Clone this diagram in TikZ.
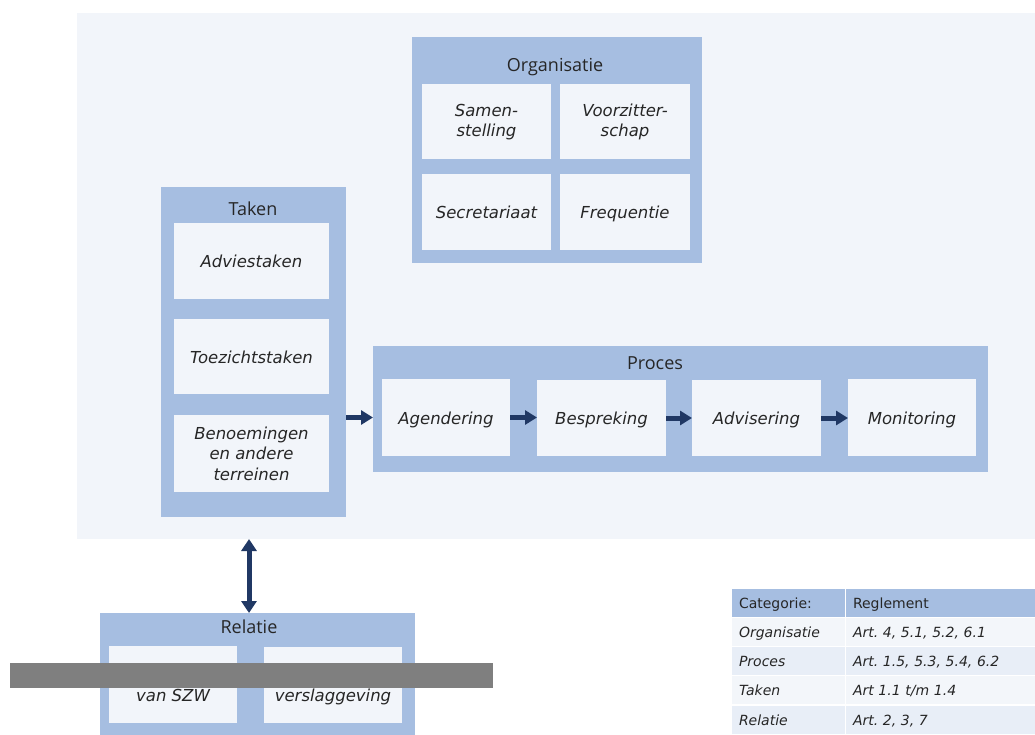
\documentclass[tikz,border=0pt]{standalone}
\usepackage{fontspec}
\setmainfont{DejaVu Sans}
\newfontfamily\titlefamily{Open Sans}
\usetikzlibrary{arrows.meta}
\definecolor{boxblue}{HTML}{A6BEE1}
\definecolor{panelfill}{HTML}{F2F5FA}
\definecolor{cellfill}{HTML}{F2F5FA}
\definecolor{navy}{HTML}{203864}
\definecolor{txt}{HTML}{262626}
\definecolor{rowlight}{HTML}{F3F6FA}
\definecolor{rowalt}{HTML}{E8EEF7}
\definecolor{bargray}{HTML}{7F7F7F}
\tikzset{
  group/.style={fill=boxblue, draw=none, inner sep=0pt, outer sep=0pt},
  cell/.style={fill=cellfill, draw=none, inner sep=0pt, outer sep=0pt, align=center, text=txt,
    font={\itshape\fontsize{16.5}{20.5}\selectfont}},
  oneline/.style={text height=13pt, text depth=0pt},
  grouptitle/.style={inner sep=0pt, text=txt, text height=13pt, text depth=0pt,
    font={\titlefamily\fontsize{18}{22}\selectfont}},
  flow/.style={draw=navy, line width=5pt, -{Triangle[width=14pt,length=12pt]}},
  dbl/.style={draw=navy, line width=5pt, {Triangle[width=15pt,length=12pt]}-{Triangle[width=15pt,length=12pt]}},
  tcell/.style={draw=white, line width=1pt, inner xsep=8pt, inner ysep=0pt, outer sep=0pt,
    minimum height=29pt, align=left, text=txt, text height=11pt, text depth=0pt,
    font={\fontsize{14}{17}\selectfont}},
  col1/.style={tcell, text width=98pt, minimum width=114pt},
  col2/.style={tcell, text width=174pt, minimum width=190pt},
  trow/.style={font={\itshape\fontsize{14}{17}\selectfont}},
}
\begin{document}
\frenchspacing
\begin{tikzpicture}[x=1pt,y=-1pt]
\useasboundingbox (0,0) rectangle (1035,735);
% background panel
\node[fill=panelfill, inner sep=0pt, outer sep=0pt, minimum width=958pt, minimum height=526pt] (panel) at (556,276) {};

% Organisatie
\node[group, minimum width=290pt, minimum height=226pt] (org) at (557,150) {};
\node[grouptitle] (orgt) at (555,65) {Organisatie};
\node[cell, minimum width=129pt, minimum height=75pt] (sam) at (486.5,122) {Samen-\\stelling};
\node[cell, minimum width=130pt, minimum height=75pt] (voo) at (625,122) {Voorzitter-\\schap};
\node[cell, oneline, minimum width=129pt, minimum height=76pt] (sec) at (486.5,212) {Secretariaat};
\node[cell, oneline, minimum width=130pt, minimum height=76pt] (fre) at (625,212) {Frequentie};

% Taken
\node[group, minimum width=185pt, minimum height=330pt] (taken) at (253.5,352) {};
\node[grouptitle] (takent) at (253,209) {Taken};
\node[cell, oneline, minimum width=155pt, minimum height=76pt] (adv) at (251.5,261) {Adviestaken};
\node[cell, oneline, minimum width=155pt, minimum height=75pt] (toe) at (251.5,356.5) {Toezichtstaken};
\node[cell, minimum width=155pt, minimum height=77pt] (ben) at (251.5,453.5) {Benoemingen\\en andere\\terreinen};

% Proces
\node[group, minimum width=615pt, minimum height=126pt] (proces) at (680.5,409) {};
\node[grouptitle] (procest) at (655,363) {Proces};
\node[cell, oneline, minimum width=128pt, minimum height=77pt] (age) at (446,417.5) {Agendering};
\node[cell, oneline, minimum width=129pt, minimum height=76pt] (bes) at (601.5,418) {Bespreking};
\node[cell, oneline, minimum width=129pt, minimum height=76pt] (advi) at (756.5,418) {Advisering};
\node[cell, oneline, minimum width=128pt, minimum height=77pt] (mon) at (912,417.5) {Monitoring};

\draw[flow] (taken.east |- age.west) -- (proces.west |- age.west);
\draw[flow] (age.east) -- (bes.west |- age.east);
\draw[flow] (bes.east) -- (advi.west);
\draw[flow] (advi.east) -- (mon.west |- advi.east);

% Relatie
\node[group, minimum width=315pt, minimum height=122pt] (relatie) at (257.5,674) {};
\node[grouptitle] (relt) at (249,627) {Relatie};
\node[cell, minimum width=128pt, minimum height=77pt] (rel1) at (173,684.5) {};
\node[cell, minimum width=138pt, minimum height=76pt] (rel2) at (333,685) {};
\node[cell, oneline, fill=none] (rel1t) at (173,695) {van SZW};
\node[cell, oneline, fill=none] (rel2t) at (333,695) {verslaggeving};

\draw[dbl] (panel.south -| relt) -- (relatie.north -| relt);

% gray bar
\node[fill=bargray, inner sep=0pt, outer sep=0pt, minimum width=483pt, minimum height=25pt] (bar) at (251.5,675.5) {};

% table
\node[col1, fill=boxblue] (h1) at (788,603) {Categorie:};
\node[col2, fill=boxblue] (h2) at (940,603) {Reglement};
\node[col1, fill=rowlight, trow] (a1) at (788,632) {Organisatie};
\node[col2, fill=rowlight, trow] (a2) at (940,632) {Art. 4, 5.1, 5.2, 6.1};
\node[col1, fill=rowalt, trow] (b1) at (788,661) {Proces};
\node[col2, fill=rowalt, trow] (b2) at (940,661) {Art. 1.5, 5.3, 5.4, 6.2};
\node[col1, fill=rowlight, trow] (c1) at (788,690) {Taken};
\node[col2, fill=rowlight, trow] (c2) at (940,690) {Art 1.1 t/m 1.4};
\node[col1, fill=rowalt, trow] (d1) at (788,720) {Relatie};
\node[col2, fill=rowalt, trow] (d2) at (940,720) {Art. 2, 3, 7};
\end{tikzpicture}
\end{document}
